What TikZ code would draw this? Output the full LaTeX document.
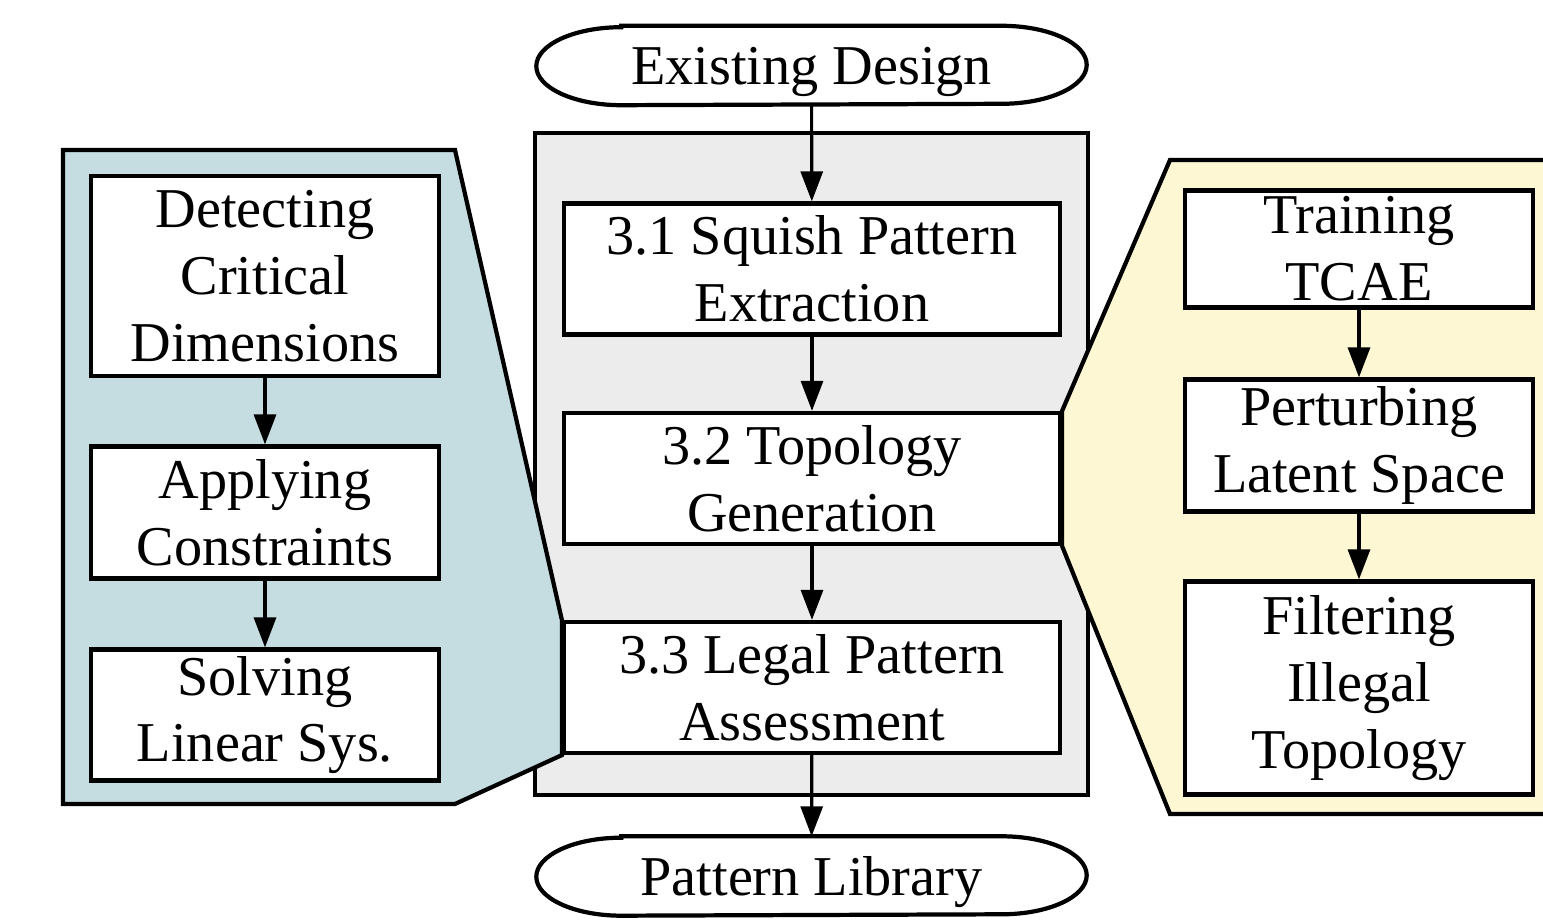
\documentclass[tikz,border=0pt]{standalone}
\usepackage{fontspec}
\setmainfont{Liberation Serif}
\usetikzlibrary{arrows.meta, positioning, backgrounds}

\definecolor{panelblue}{HTML}{C5DDE0}
\definecolor{panelyellow}{HTML}{FDF7D3}
\definecolor{stagegray}{HTML}{ECECEC}

% outline with elliptic ends round a terminal node
\newcommand{\capsuleoutline}[1]{%
  \draw[line width=1.2pt, fill=white]
    ([xshift=0.85cm]#1.north west) -- ([xshift=-0.85cm]#1.north east)
    arc[start angle=90, end angle=-90, x radius=0.85cm, y radius=0.39cm]
    -- ([xshift=0.85cm]#1.south west)
    arc[start angle=270, end angle=90, x radius=0.85cm, y radius=0.39cm]
    -- cycle;}

\begin{document}
\begin{tikzpicture}[
    stagebox/.style={
        rectangle, draw, line width=1.2pt, fill=white,
        minimum width=4.96cm, minimum height=1.31cm,
        align=center, inner sep=0pt,
        font=\fontsize{16}{19}\selectfont
    },
    subbox/.style={
        rectangle, draw, line width=1.2pt, fill=white,
        minimum width=3.48cm,
        align=center, inner sep=0pt,
        font=\fontsize{16}{19}\selectfont
    },
    terminal/.style={
        rectangle, minimum width=5.49cm, minimum height=0.78cm,
        inner sep=0pt, text depth=0pt,
        font=\fontsize{16}{19}\selectfont
    },
    panel/.style={draw, line width=1.2pt},
    >={Triangle[length=0.3cm, width=0.22cm]},
    flow/.style={->, line width=0.9pt}
]
\useasboundingbox (0,0) rectangle (15.43,-9.24);

% main flow
\node[terminal] (existing) at (8.115,-0.655) {Existing Design};
\node[stagebox] (s31) at (8.12,-2.69) {3.1 Squish Pattern\\Extraction};
\node[stagebox] (s32) at (8.12,-4.785) {3.2 Topology\\Generation};
\node[stagebox] (s33) at (8.12,-6.875) {3.3 Legal Pattern\\Assessment};
\node[terminal] (library) at (8.115,-8.76) {Pattern Library};

% left detail
\node[subbox, minimum height=2.0cm]  (detect) at (2.65,-2.76) {Detecting\\Critical\\Dimensions};
\node[subbox, minimum height=1.32cm] (apply)  at (2.65,-5.125) {Applying\\Constraints};
\node[subbox, minimum height=1.31cm] (solve)  at (2.65,-7.15) {Solving\\Linear Sys.};

% right detail
\node[subbox, minimum height=1.17cm] (train)   at (13.59,-2.49) {Training\\TCAE};
\node[subbox, minimum height=1.32cm] (perturb) at (13.59,-4.455) {Perturbing\\Latent Space};
\node[subbox, minimum height=2.13cm] (filter)  at (13.59,-6.88) {Filtering\\Illegal\\Topology};

\begin{scope}[on background layer]
\draw[panel, fill=stagegray] (5.35,-1.33) rectangle (10.88,-7.95);
\draw[panel, fill=panelblue] (0.63,-1.50) -- (4.55,-1.50) -- (s33.north west)
    -- (s33.south west) -- (4.55,-8.04) -- (0.63,-8.04) -- cycle;
\draw[panel, fill=panelyellow] (s32.north east) -- (11.70,-1.60) -- (15.60,-1.60)
    -- (15.60,-8.14) -- (11.70,-8.14) -- (s32.south east) -- cycle;
\capsuleoutline{existing}
\capsuleoutline{library}
\end{scope}

\draw[flow] (existing) -- (s31);
\draw[flow] (s31) -- (s32);
\draw[flow] (s32) -- (s33);
\draw[flow] (s33) -- (library);

\draw[flow] (detect) -- (apply);
\draw[flow] (apply) -- (solve);

\draw[flow] (train) -- (perturb);
\draw[flow] (perturb) -- (filter);

\end{tikzpicture}
\end{document}
